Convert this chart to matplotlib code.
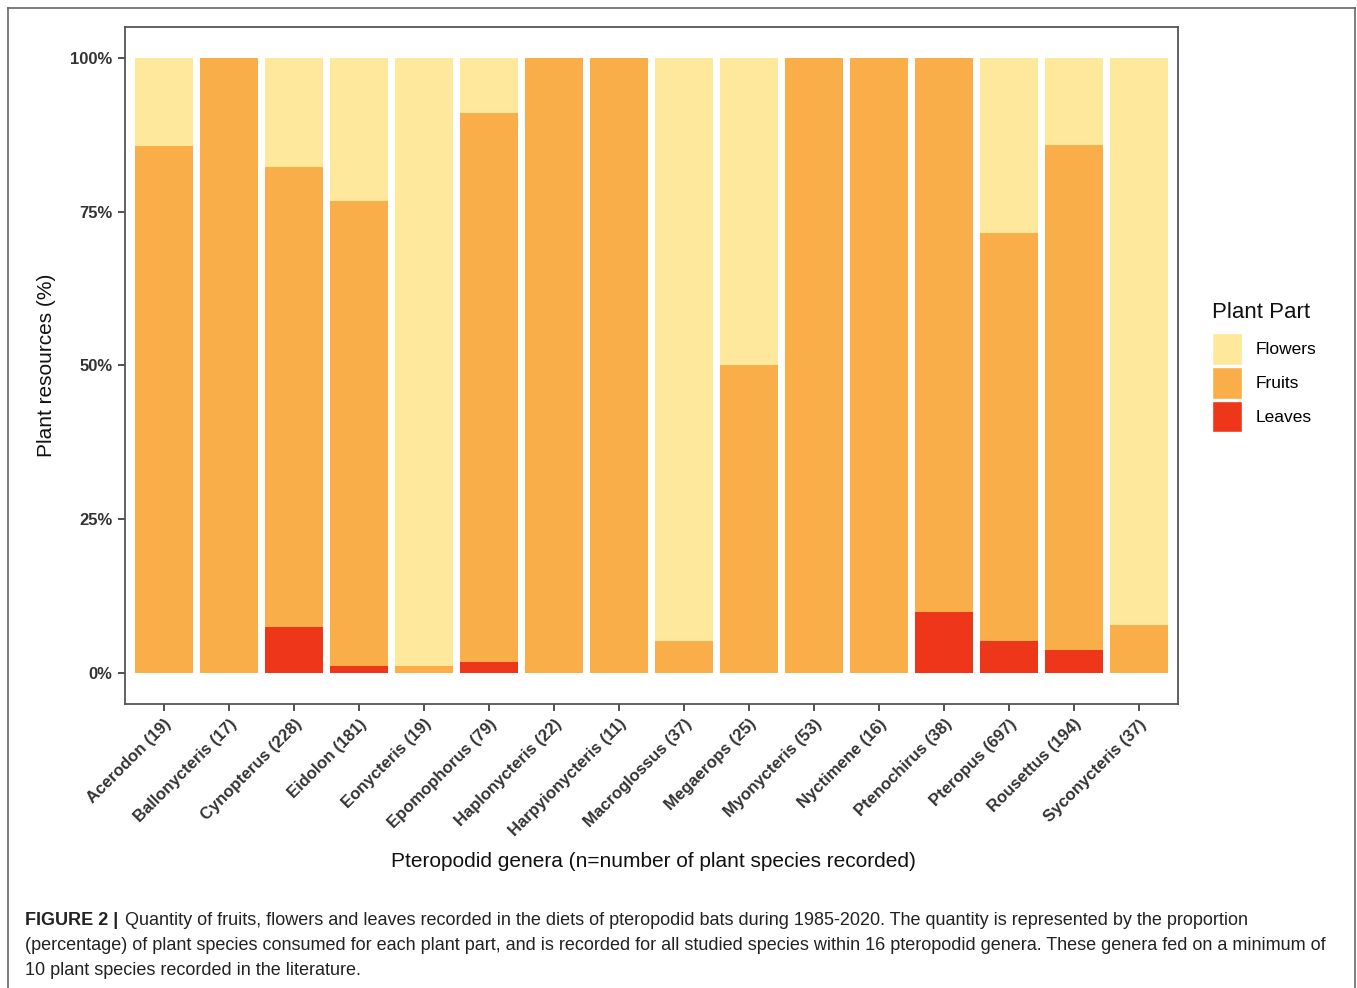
import numpy as np
import matplotlib.pyplot as plt
from matplotlib.patches import Patch
from matplotlib.lines import Line2D

plt.rcParams["font.family"] = ["Liberation Sans", "DejaVu Sans"]

# Data (percent of plant species per plant part)
genera = ["Acerodon (19)", "Ballonycteris (17)", "Cynopterus (228)", "Eidolon (181)",
          "Eonycteris (19)", "Epomophorus (79)", "Haplonycteris (22)", "Harpyionycteris (11)",
          "Macroglossus (37)", "Megaerops (25)", "Myonycteris (53)", "Nyctimene (16)",
          "Ptenochirus (38)", "Pteropus (697)", "Rousettus (194)", "Syconycteris (37)"]
leaves = [0, 0, 7.5, 1.1, 0, 1.8, 0, 0, 0, 0, 0, 0, 9.9, 5.2, 3.7, 0]
fruits = [85.7, 100, 74.8, 75.7, 1.1, 89.3, 100, 100, 5.2, 50, 100, 100, 90.1, 66.4, 82.2, 7.8]
flowers = [14.3, 0, 17.7, 23.2, 98.9, 8.9, 0, 0, 94.8, 50, 0, 0, 0, 28.4, 14.1, 92.2]

parts = ["Flowers", "Fruits", "Leaves"]
colors = {"Flowers": "#FEE89B", "Fruits": "#F9AE4A", "Leaves": "#EE361B"}
TXT = "#333333"

W, H = 1357, 988
fig = plt.figure(figsize=(W / 100, H / 100), dpi=100)
ax = fig.add_axes([125 / W, 1 - 704 / H, (1178 - 125) / W, (704 - 27) / H])

x = np.arange(len(genera))
lv = np.array(leaves) / 100
fr = np.array(fruits) / 100
fl = np.array(flowers) / 100
ax.bar(x, lv, width=0.9, color=colors["Leaves"], linewidth=0)
ax.bar(x, fr, bottom=lv, width=0.9, color=colors["Fruits"], linewidth=0)
ax.bar(x, fl, bottom=lv + fr, width=0.9, color=colors["Flowers"], linewidth=0)

ax.set_xlim(-0.6, len(genera) - 0.4)
ax.set_ylim(-0.05, 1.05)
ax.set_yticks([0, 0.25, 0.5, 0.75, 1.0])
ax.set_yticklabels(["0%", "25%", "50%", "75%", "100%"], fontsize=12, color=TXT, fontweight="bold")
ax.set_xticks(x)
ax.set_xticklabels(genera, rotation=45, ha="right", rotation_mode="anchor",
                   fontsize=12, color=TXT, fontweight="bold")
ax.tick_params(axis="both", length=5, width=1.2, color=TXT, pad=4)
for s in ax.spines.values():
    s.set_color("#555555")
    s.set_linewidth(1.3)

ax.set_ylabel("Plant resources (%)", fontsize=15, color="#111111", labelpad=10)
ax.set_xlabel("Pteropodid genera (n=number of plant species recorded)", fontsize=15,
              color="#111111", labelpad=8)
ax.xaxis.set_label_coords((653 - 125) / (1178 - 125), -(852 - 704) / (704 - 27))

# legend (title drawn separately for spacing control)
fig.text(1212 / W, 1 - 312 / H, "Plant Part", fontsize=16, color="#111111", va="center")
handles = [Patch(facecolor=colors[p], edgecolor="white", label=p) for p in parts]
leg = fig.legend(handles=handles, loc="upper left",
                 bbox_to_anchor=(1196 / W, 1 - 317 / H), frameon=False,
                 fontsize=12.5, handlelength=1.75, handleheight=2.45,
                 handletextpad=0.8, labelspacing=0.12)

# outer frame
fr_kw = dict(color="#666666", linewidth=1.2, transform=fig.transFigure)
fig.add_artist(Line2D([8 / W, 8 / W], [0, 1 - 8 / H], **fr_kw))
fig.add_artist(Line2D([8 / W, 1355 / W], [1 - 8 / H, 1 - 8 / H], **fr_kw))
fig.add_artist(Line2D([1355 / W, 1355 / W], [0, 1 - 8 / H], **fr_kw))

# caption
cap_size = 13
fig.text(25 / W, 1 - 920 / H, "FIGURE 2 |", fontsize=cap_size, fontweight="bold",
         color="#222222", va="center")
fig.text(125 / W, 1 - 920 / H,
         "Quantity of fruits, flowers and leaves recorded in the diets of pteropodid bats during "
         "1985-2020. The quantity is represented by the proportion",
         fontsize=cap_size, color="#222222", va="center")
fig.text(25 / W, 1 - 945 / H,
         "(percentage) of plant species consumed for each plant part, and is recorded for all studied "
         "species within 16 pteropodid genera. These genera fed on a minimum of",
         fontsize=cap_size, color="#222222", va="center")
fig.text(25 / W, 1 - 970 / H, "10 plant species recorded in the literature.",
         fontsize=cap_size, color="#222222", va="center")

fig.savefig("out.png", dpi=100)
